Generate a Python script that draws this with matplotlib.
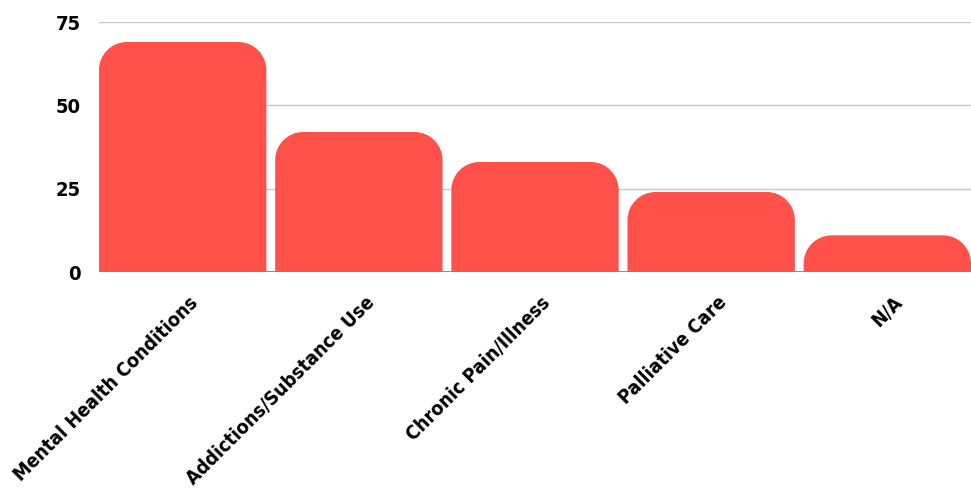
import matplotlib.pyplot as plt
import numpy as np
from matplotlib.path import Path
from matplotlib.patches import PathPatch
from matplotlib.transforms import ScaledTranslation

categories = ['Mental Health Conditions', 'Addictions/Substance Use', 'Chronic Pain/Illness',
              'Palliative Care', 'N/A']
counts = [69, 42, 33, 24, 11]
yticks = [0, 25, 50, 75]

plt.rcParams['font.family'] = ['DejaVu Sans']
plt.rcParams['font.stretch'] = 'condensed'
plt.rcParams['font.weight'] = 'bold'

fig = plt.figure(figsize=(9.71, 4.91), dpi=100)
ax = fig.add_axes([99/971, 219/491, 872/971, 250/491])

x = np.arange(len(categories))
width = 0.95
bars = ax.bar(x, counts, width=width, color='#ff5149', zorder=2)
ax.set_xlim(-0.475, 4.475)
ax.set_ylim(0, 75)


def rounded_top(ax, rect, r_px=28):
    # swap a plain bar for one with rounded top corners (radius in pixels)
    x0, y0 = rect.get_x(), rect.get_y()
    w, h = rect.get_width(), rect.get_height()
    p0 = ax.transData.transform((0, 0))
    p1 = ax.transData.transform((1, 1))
    rx = r_px / (p1[0] - p0[0])
    ry = min(r_px / (p1[1] - p0[1]), h)
    k = 0.5523
    verts = [(x0, y0), (x0, y0 + h - ry),
             (x0, y0 + h - ry + k * ry), (x0 + rx - k * rx, y0 + h), (x0 + rx, y0 + h),
             (x0 + w - rx, y0 + h),
             (x0 + w - rx + k * rx, y0 + h), (x0 + w, y0 + h - ry + k * ry), (x0 + w, y0 + h - ry),
             (x0 + w, y0), (x0, y0)]
    codes = [Path.MOVETO, Path.LINETO,
             Path.CURVE4, Path.CURVE4, Path.CURVE4,
             Path.LINETO,
             Path.CURVE4, Path.CURVE4, Path.CURVE4,
             Path.LINETO, Path.CLOSEPOLY]
    patch = PathPatch(Path(verts, codes), facecolor=rect.get_facecolor(),
                      edgecolor='none', zorder=2)
    rect.remove()
    ax.add_patch(patch)


for b in list(bars):
    rounded_top(ax, b)

ax.set_yticks(yticks)
ax.yaxis.grid(True, color='#c8c8c8', linewidth=1, zorder=0)
ax.axhline(0, color='#666666', linewidth=1.2, zorder=1)
for s in ax.spines.values():
    s.set_visible(False)

ax.set_xticks(x)
ax.set_xticklabels(categories, rotation=45, ha='right', rotation_mode='anchor')
ax.tick_params(axis='x', length=0, pad=15, labelsize=14)
ax.tick_params(axis='y', length=0, pad=13, labelsize=14.5)

# nudge the slanted labels a bit to the right
shift = ScaledTranslation(6/100, 0, fig.dpi_scale_trans)
for lbl in ax.get_xticklabels():
    lbl.set_transform(lbl.get_transform() + shift)

fig.savefig('out.png', dpi=100)
